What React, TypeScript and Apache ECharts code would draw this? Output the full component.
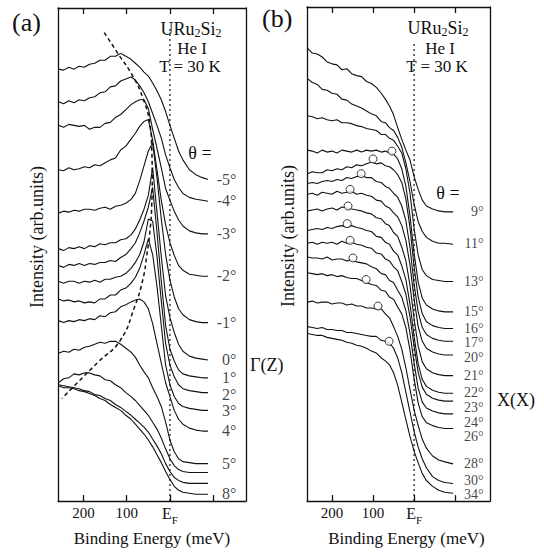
import React, { useEffect, useRef } from 'react';
import * as echarts from 'echarts';

const FONT = 'Liberation Serif, DejaVu Serif, serif';
const INK = '#111';

// Binding energy sampling (meV) for each panel
const ENERGY_A = [258, 246, 234, 222, 210, 198, 186, 174, 162, 150, 138, 126, 114, 102, 90, 80, 70, 60, 50, 40, 30, 20, 10, 0, -10, -20, -30, -45, -60, -75, -88];
const ENERGY_B = [260, 248, 236, 224, 212, 200, 188, 176, 164, 152, 140, 128, 116, 104, 92, 80, 70, 60, 50, 40, 30, 20, 10, 0, -10, -20, -30, -45, -60, -75, -95];

// Panel (a): Gamma(Z) direction, offset intensity (arb. units)
const A_M5 = [438, 437, 440, 438, 441, 440, 443, 444, 447, 447, 451, 451, 454, 451, 448, 444, 440, 435, 431, 424, 416, 407, 395, 381, 368, 355, 346, 336, 331, 328, 326];
const A_M4 = [405, 403, 406, 404, 407, 406, 409, 410, 414, 415, 420, 421, 426, 428, 430, 427, 421, 414, 405, 393, 381, 368, 351, 338, 326, 318, 312, 308, 306, 305, 304];
const A_M3 = [381, 379, 382, 381, 380, 381, 377, 379, 379, 383, 384, 389, 392, 397, 402, 405, 407, 407, 398, 377, 358, 338, 317, 305, 294, 285, 279, 274, 272, 271, 271];
const A_M2 = [336, 335, 338, 336, 337, 339, 338, 341, 340, 343, 346, 348, 356, 360, 367, 373, 380, 385, 387, 366, 336, 305, 280, 262, 249, 239, 234, 230, 229, 228, 228];
const A_M1 = [292, 294, 293, 295, 294, 296, 296, 295, 297, 298, 296, 299, 300, 302, 306, 312, 325, 340, 355, 363, 328, 286, 250, 224, 207, 195, 189, 184, 182, 181, 181];
const A_P0 = [256, 254, 257, 256, 258, 256, 259, 258, 261, 260, 262, 262, 265, 266, 270, 276, 285, 296, 310, 338, 293, 248, 208, 186, 171, 159, 152, 147, 145, 144, 143];
const A_P1 = [239, 237, 240, 239, 241, 239, 241, 240, 242, 242, 244, 243, 247, 250, 256, 262, 272, 284, 298, 318, 273, 223, 178, 154, 142, 133, 129, 127, 126, 125, 125];
const A_P2 = [223, 221, 223, 223, 221, 223, 222, 224, 222, 225, 225, 227, 228, 231, 236, 242, 250, 263, 286, 284, 248, 203, 160, 138, 126, 118, 114, 112, 111, 110, 110];
const A_P3 = [205, 203, 204, 202, 203, 201, 202, 201, 205, 205, 209, 209, 214, 216, 221, 227, 236, 250, 266, 250, 218, 178, 138, 118, 106, 99, 96, 94, 93, 92, 92];
const A_P4 = [183, 181, 183, 182, 184, 183, 185, 184, 188, 187, 191, 192, 197, 199, 202, 204, 205, 202, 195, 180, 160, 140, 120, 106, 92, 83, 78, 74, 72, 71, 71];
const A_P5 = [150, 152, 151, 154, 153, 156, 157, 159, 161, 160, 162, 162, 159, 155, 151, 146, 138, 131, 125, 115, 106, 96, 80, 62, 50, 43, 40, 39, 38, 38, 38];
const A_P6 = [120, 124, 125, 129, 128, 130, 130, 128, 127, 123, 122, 118, 115, 110, 106, 102, 97, 92, 87, 80, 73, 64, 53, 43, 36, 32, 30, 29, 29, 29, 29];
const A_P7 = [118, 117, 116, 115, 114, 112, 111, 108, 107, 104, 102, 98, 95, 91, 87, 83, 79, 75, 70, 63, 56, 48, 38, 30, 24, 21, 19, 18, 18, 18, 18];
const A_P8 = [117, 115, 115, 114, 112, 111, 109, 107, 104, 102, 98, 95, 92, 87, 83, 78, 73, 68, 62, 55, 47, 39, 30, 22, 15, 11, 9, 8, 7, 7, 7];

// Panel (b): X(X) direction
const B_09 = [462, 457, 456, 453, 448, 446, 445, 440, 441, 436, 434, 433, 428, 426, 422, 416, 410, 403, 394, 381, 369, 358, 348, 331, 318, 307, 301, 298, 296, 295, 295];
const B_11 = [431, 427, 425, 420, 419, 416, 415, 410, 409, 405, 403, 401, 398, 395, 393, 387, 386, 381, 378, 371, 361, 345, 326, 303, 285, 275, 269, 265, 263, 263, 262];
const B_13 = [393, 392, 390, 391, 389, 388, 389, 386, 386, 385, 383, 382, 380, 379, 378, 374, 374, 370, 368, 362, 355, 339, 314, 278, 251, 236, 230, 226, 225, 224, 224];
const B_15 = [358, 357, 355, 358, 356, 357, 355, 358, 357, 356, 358, 356, 358, 357, 358, 356, 357, 355, 354, 349, 339, 321, 291, 253, 223, 207, 200, 196, 194, 193, 193];
const B_16 = [334, 336, 335, 335, 338, 337, 339, 338, 341, 340, 343, 342, 344, 346, 344, 345, 342, 341, 338, 333, 325, 308, 279, 239, 208, 191, 183, 179, 177, 176, 176];
const B_17 = [324, 325, 324, 326, 327, 326, 328, 327, 330, 329, 331, 332, 330, 330, 326, 325, 321, 319, 314, 310, 301, 286, 259, 221, 193, 177, 170, 166, 164, 163, 163];
const B_20 = [313, 314, 312, 315, 314, 313, 316, 314, 315, 316, 313, 314, 312, 311, 307, 306, 301, 299, 294, 290, 281, 266, 241, 206, 178, 163, 156, 152, 150, 149, 149];
const B_21 = [296, 297, 298, 296, 298, 299, 297, 300, 299, 298, 297, 296, 294, 293, 289, 288, 283, 281, 274, 270, 259, 245, 220, 186, 158, 142, 135, 131, 129, 128, 128];
const B_22 = [276, 277, 278, 277, 279, 278, 280, 281, 279, 281, 279, 278, 276, 275, 270, 269, 264, 262, 255, 251, 240, 226, 201, 168, 140, 124, 117, 113, 111, 110, 110];
const B_23 = [263, 264, 262, 264, 263, 264, 262, 265, 263, 264, 262, 261, 259, 258, 253, 252, 247, 245, 239, 235, 224, 211, 188, 158, 131, 116, 109, 105, 103, 102, 102];
const B_24 = [249, 248, 248, 247, 249, 246, 247, 247, 245, 246, 244, 243, 242, 239, 237, 232, 231, 225, 223, 215, 208, 194, 171, 141, 115, 101, 95, 92, 90, 89, 89];
const B_26 = [233, 232, 231, 232, 230, 231, 229, 230, 228, 227, 227, 225, 223, 221, 220, 215, 214, 208, 206, 198, 191, 177, 154, 125, 100, 86, 80, 77, 75, 74, 74];
const B_28 = [203, 204, 202, 203, 203, 201, 202, 202, 200, 201, 199, 199, 197, 197, 196, 196, 191, 187, 178, 168, 155, 136, 114, 93, 77, 63, 54, 46, 42, 40, 38];
const B_30 = [178, 177, 176, 177, 175, 175, 174, 174, 172, 172, 171, 170, 169, 168, 168, 164, 163, 161, 156, 146, 131, 111, 91, 71, 55, 43, 34, 25, 21, 19, 18];
const B_34 = [171, 170, 169, 169, 167, 166, 165, 164, 162, 161, 159, 158, 156, 153, 151, 146, 143, 139, 131, 118, 101, 83, 66, 51, 39, 28, 21, 15, 11, 9, 8];

// Peak markers (open circles) in panel (b)
const CIRCLE_E = [54, 100, 129, 156, 161, 163, 156, 149, 117, 88, 61];
const CIRCLE_I = [357, 349, 334, 318, 301, 283, 266, 248, 226, 199, 163];

// Dispersion guide (dashed) in panel (a)
const DASH_E = [152, 122, 86, 62, 46, 42, 41, 42, 46, 54, 62, 81, 115, 166, 212, 250];
const DASH_I = [475, 455, 431, 408, 381, 355, 328, 301, 275, 248, 226, 198, 163, 141, 121, 104];

// E_F marker heights
const EF_TOP_A = 481;
const EF_TOP_B = 468;

const TICK_VALUES = [200, 100, 0, -100];
const TICK_LABEL_VALUES = [200, 100, 0];

const CURVES_A: { label: string; values: number[] }[] = [
  { label: '-5°', values: A_M5 },
  { label: '-4°', values: A_M4 },
  { label: '-3°', values: A_M3 },
  { label: '-2°', values: A_M2 },
  { label: '-1°', values: A_M1 },
  { label: '0°', values: A_P0 },
  { label: '1°', values: A_P1 },
  { label: '2°', values: A_P2 },
  { label: '3°', values: A_P3 },
  { label: '4°', values: A_P4 },
  { label: '5°', values: A_P5 },
  { label: '', values: A_P6 },
  { label: '', values: A_P7 },
  { label: '8°', values: A_P8 },
];

const CURVES_B: { label: string; values: number[] }[] = [
  { label: '9°', values: B_09 },
  { label: '11°', values: B_11 },
  { label: '13°', values: B_13 },
  { label: '15°', values: B_15 },
  { label: '16°', values: B_16 },
  { label: '17°', values: B_17 },
  { label: '20°', values: B_20 },
  { label: '21°', values: B_21 },
  { label: '22°', values: B_22 },
  { label: '23°', values: B_23 },
  { label: '24°', values: B_24 },
  { label: '26°', values: B_26 },
  { label: '28°', values: B_28 },
  { label: '30°', values: B_30 },
  { label: '34°', values: B_34 },
];

// Spread label anchors so neighbouring angle labels do not collide
function spreadAnchors(ends: number[], gap: number, floor: number) {
  const out = ends.slice();
  for (let i = 1; i < out.length; i++) out[i] = Math.min(out[i], out[i - 1] - gap);
  if (out[out.length - 1] < floor) {
    out[out.length - 1] = floor;
    for (let i = out.length - 2; i >= 0; i--) out[i] = Math.max(out[i], out[i + 1] + gap);
  }
  return out;
}

function xAxisDef(gridIndex: number, min: number, max: number, position: 'top' | 'bottom', namePadLeft: number, nameGap: number) {
  const bottom = position === 'bottom';
  return {
    type: 'value',
    gridIndex,
    min,
    max,
    inverse: true,
    position,
    axisLine: { show: true, onZero: false, lineStyle: { color: INK, width: 1.3 } },
    axisTick: {
      show: true,
      inside: true,
      length: 6,
      customValues: TICK_VALUES,
      lineStyle: { color: INK, width: 1.3 },
    },
    axisLabel: {
      show: bottom,
      customValues: TICK_LABEL_VALUES,
      margin: 4,
      color: INK,
      fontFamily: FONT,
      fontSize: 15,
      formatter: (v: number) => (v === 0 ? '{e|E}{f|F}' : '{d|' + v + '}'),
      rich: {
        d: { fontSize: 15, lineHeight: 16, verticalAlign: 'top', fontFamily: FONT, color: INK },
        e: { fontSize: 16, lineHeight: 16, verticalAlign: 'top', fontFamily: FONT, color: INK },
        f: { fontSize: 11, lineHeight: 20, verticalAlign: 'bottom', fontFamily: FONT, color: INK },
      },
    },
    splitLine: { show: false },
    name: bottom ? 'Binding Energy (meV)' : '',
    nameLocation: 'middle',
    nameGap,
    nameTextStyle: { fontFamily: FONT, fontSize: 17, color: INK, padding: [0, 0, 0, namePadLeft] },
  };
}

function yAxisDef(gridIndex: number, max: number, position: 'left' | 'right') {
  return {
    type: 'value',
    gridIndex,
    min: 0,
    max,
    position,
    axisLine: { show: true, onZero: false, lineStyle: { color: INK, width: 1.3 } },
    axisTick: { show: false },
    axisLabel: { show: false },
    splitLine: { show: false },
  };
}

function curveSeries(energy: number[], values: number[], xi: number, yi: number) {
  return {
    type: 'line',
    xAxisIndex: xi,
    yAxisIndex: yi,
    data: energy.map((e, i) => [e, values[i]]),
    symbol: 'none',
    showSymbol: false,
    smooth: false,
    lineStyle: { color: INK, width: 1.1 },
    silent: true,
    z: 3,
  };
}

function labelSeries(energy: number[], curves: { label: string; values: number[] }[], xi: number, yi: number, dx: number, fontSize: number, gap: number, floor: number) {
  const last = energy.length - 1;
  const labelled = curves.filter((c) => c.label);
  const anchors = spreadAnchors(labelled.map((c) => c.values[last]), gap, floor);
  return {
    type: 'scatter',
    xAxisIndex: xi,
    yAxisIndex: yi,
    symbolSize: 1,
    itemStyle: { color: 'rgba(0,0,0,0)' },
    data: labelled.map((c, i) => ({ name: c.label, value: [energy[last], anchors[i]] })),
    label: {
      show: true,
      position: [dx, 0],
      align: 'right',
      verticalAlign: 'middle',
      formatter: '{b}',
      fontFamily: FONT,
      fontSize,
      lineHeight: gap - 1,
      color: INK,
    },
    silent: true,
    z: 5,
  };
}

function richTitle(x: number, y: number, text: string) {
  return {
    type: 'text',
    x,
    y,
    silent: true,
    style: {
      text,
      align: 'center',
      verticalAlign: 'top',
      fill: INK,
      fontFamily: FONT,
      fontSize: 18,
      rich: {
        n: { fontSize: 18, lineHeight: 17, verticalAlign: 'top', fontFamily: FONT, fill: INK },
        s: { fontSize: 12, lineHeight: 19, verticalAlign: 'bottom', fontFamily: FONT, fill: INK },
      },
    },
  };
}

function plainText(x: number, y: number, text: string, fontSize: number, align: string, rotation = 0, vAlign = 'top', lineHeight?: number) {
  const style: any = { text, align, verticalAlign: vAlign, fill: INK, fontFamily: FONT, fontSize };
  if (lineHeight) style.lineHeight = lineHeight;
  return { type: 'text', x, y, rotation, silent: true, style };
}

export default function App() {
  const ref = useRef<HTMLDivElement>(null);

  useEffect(() => {
    if (!ref.current) return;
    const chart = echarts.init(ref.current, undefined, { renderer: 'svg' });

    const series: any[] = [];
    // E_F dotted markers
    series.push({
      type: 'line', xAxisIndex: 0, yAxisIndex: 0, data: [[0, 0], [0, EF_TOP_A]], symbol: 'none',
      lineStyle: { color: INK, width: 1.2, type: [2, 3] }, silent: true, z: 2,
    });
    series.push({
      type: 'line', xAxisIndex: 2, yAxisIndex: 2, data: [[0, 0], [0, EF_TOP_B]], symbol: 'none',
      lineStyle: { color: INK, width: 1.2, type: [2, 3] }, silent: true, z: 2,
    });
    CURVES_A.forEach((c) => series.push(curveSeries(ENERGY_A, c.values, 0, 0)));
    CURVES_B.forEach((c) => series.push(curveSeries(ENERGY_B, c.values, 2, 2)));
    // dispersion guide
    series.push({
      type: 'line', xAxisIndex: 0, yAxisIndex: 0,
      data: DASH_E.map((e, i) => [e, DASH_I[i]]),
      symbol: 'none', smooth: 0.5,
      lineStyle: { color: INK, width: 1.5, type: [4, 3] }, silent: true, z: 4,
    });
    // peak circles
    series.push({
      type: 'scatter', xAxisIndex: 2, yAxisIndex: 2,
      data: CIRCLE_E.map((e, i) => [e, CIRCLE_I[i]]),
      symbol: 'circle', symbolSize: 8,
      itemStyle: { color: '#fff', borderColor: INK, borderWidth: 1 }, silent: true, z: 4,
    });
    series.push(labelSeries(ENERGY_A, CURVES_A, 0, 0, 29, 16, 17, 7));
    series.push(labelSeries(ENERGY_B, CURVES_B, 2, 2, 31, 14, 15, 6));

    chart.setOption({
      animation: false,
      backgroundColor: '#fff',
      textStyle: { fontFamily: FONT, color: INK },
      grid: [
        { left: 58, top: 8, width: 188, height: 500 },
        { left: 307, top: 7, width: 183, height: 504 },
      ],
      xAxis: [
        xAxisDef(0, -176, 259, 'bottom', 0, 26),
        xAxisDef(0, -176, 259, 'top', 0, 0),
        xAxisDef(1, -185, 261, 'bottom', 16, 18),
        xAxisDef(1, -185, 261, 'top', 0, 0),
      ],
      yAxis: [
        yAxisDef(0, 500, 'left'),
        yAxisDef(0, 500, 'right'),
        yAxisDef(1, 504, 'left'),
        yAxisDef(1, 504, 'right'),
      ],
      series,
      graphic: [
        plainText(12, 9, '(a)', 26, 'left'),
        plainText(262, 5, '(b)', 26, 'left'),
        richTitle(191, 20, '{n|URu}{s|2}{n|Si}{s|2}'),
        plainText(192, 41, 'He I', 17, 'center', 0, 'top', 15),
        plainText(190, 59, 'T = 30 K', 17, 'center', 0, 'top', 15),
        richTitle(438, 19, '{n|URu}{s|2}{n|Si}{s|2}'),
        plainText(440, 41, 'He I', 17, 'center', 0, 'top', 15),
        plainText(437, 59, 'T = 30 K', 17, 'center', 0, 'top', 15),
        plainText(200, 144, 'θ =', 18, 'center'),
        plainText(448, 184, 'θ =', 18, 'center'),
        plainText(250, 356, 'Γ(Z)', 18, 'left'),
        plainText(497, 391, 'X(X)', 18, 'left'),
        plainText(37, 237, 'Intensity (arb.units)', 18, 'center', Math.PI / 2, 'middle'),
        plainText(288, 236, 'Intensity (arb.units)', 18, 'center', Math.PI / 2, 'middle'),
      ],
    });

    return () => chart.dispose();
  }, []);

  return (
    <div
      ref={ref}
      style={{ position: 'fixed', left: 0, top: 0, width: 544, height: 552, background: '#fff' }}
    />
  );
}
